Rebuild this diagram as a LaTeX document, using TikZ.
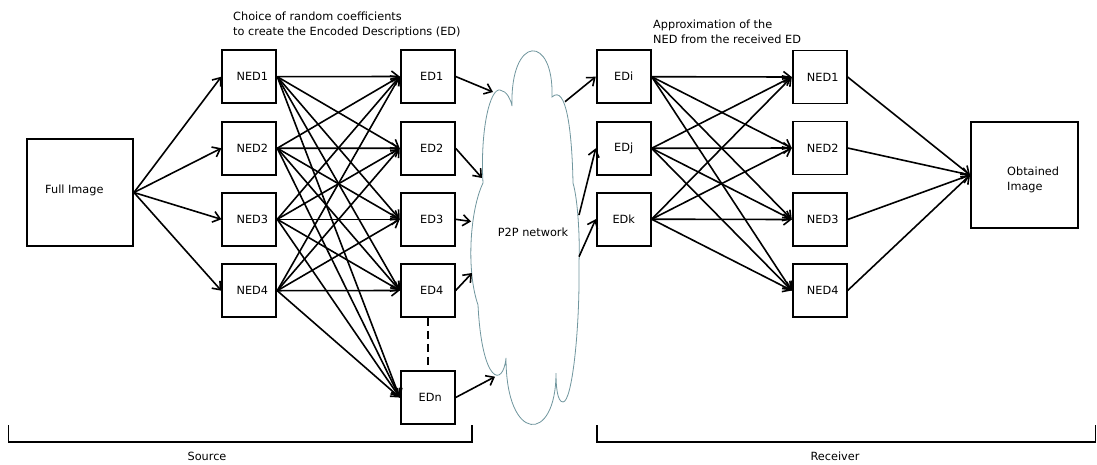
\documentclass[tikz,border=0pt]{standalone}
\usepackage{fontspec}
\setmainfont{DejaVu Sans}
\usetikzlibrary{arrows.meta}
\definecolor{cloudline}{RGB}{112,150,158}
\begin{document}
\begin{tikzpicture}[x=1pt,y=-1pt,
  every node/.style={font=\fontsize{11.3}{15}\selectfont},
  box/.style={draw, line width=1.9pt, minimum width=54pt, minimum height=53pt, inner sep=0pt},
  bigbox/.style={draw, line width=1.9pt, minimum width=106pt, minimum height=107pt, inner sep=0pt},
  arr/.style={line width=1.6pt, -{Straight Barb[length=7pt,width=11pt]}},
  plain/.style={line width=1.6pt},
  note/.style={inner sep=0pt, align=left}
]
\useasboundingbox (0,0) rectangle (1097,464);

% ---- source side ----
\node[bigbox] (full) at (80,192.5) {};
\node[inner sep=0pt, anchor=base west] (fulltxt) at (45,193.3) {Full Image};

\foreach \i/\y in {1/76.7,2/148.2,3/219.3,4/290.7}
  \node[box] (ned\i) at (249.3,\y) {\hspace{6pt}NED\i};

\foreach \i/\y in {1/76.5,2/148.3,3/219.3,4/290.5}
  \node[box] (ed\i) at (427.7,\y) {\hspace{8pt}ED\i};
\node[box] (edn) at (427.7,397.5) {\hspace{5pt}EDn};

\node[note, anchor=north west] (choice) at (233,11.6)
  {Choice of random coefficients\\to create the Encoded Descriptions (ED)};

% ---- network cloud ----
\draw[cloudline, line width=0.8pt, fill=white]
  (512,106) .. controls (510,34) and (554,34) .. (552,97)
  .. controls (566,84) and (572,130) .. (573,183)
  .. controls (578,200) and (580,240) .. (579,262)
  .. controls (580,330) and (572,402) .. (563,402)
  .. controls (557,402) and (556,385) .. (556,373)
  .. controls (556,444) and (506,444) .. (506,358)
  .. controls (503,388) and (482,384) .. (478,305)
  .. controls (466,270) and (470,210) .. (483,183)
  .. controls (480,130) and (490,88) .. (500,90)
  .. controls (507,91) and (511,100) .. (512,106) -- cycle;
\node (p2p) at (533,232) {P2P network};

\coordinate (in1) at (493,92);
\coordinate (in2) at (482,178);
\coordinate (in3) at (471,221.5);
\coordinate (in4) at (472,273);
\coordinate (inn) at (495,376.7);
\coordinate (out1) at (565,101.7);
\coordinate (out2) at (579,215);
\coordinate (out3) at (579,256.7);

% ---- receiver side ----
\foreach \n/\y in {i/76.7,j/148.3,k/219.2}
  \node[box] (ed\n) at (623.7,\y) {ED\n};

\foreach \i/\y in {1/77,2/148,3/219.5,4/290.5}
  \node[box] (rned\i) at (819.7,\y) {\hspace{6pt}NED\i};

\node[bigbox, minimum width=107pt, minimum height=106pt] (obt) at (1024.5,175) {};
\node[note, anchor=north west] (obttxt) at (1007,166.6) {Obtained\\Image};

\node[note, anchor=north west] (approx) at (653,19.3)
  {Approximation of the\\NED from the received ED};

% ---- connectors ----
\foreach \i in {1,2,3,4}
  \draw[arr] (full.east) -- (ned\i.west);

\foreach \i in {1,2,3,4}
  \foreach \j in {1,2,3,4,n}
    \draw[arr] (ned\i.east) -- (ed\j.west);

\draw[arr] (ed1.east) -- (in1);
\draw[arr] (ed2.east) -- (in2);
\draw[arr] (ed3.east) -- (in3);
\draw[arr] (ed4.east) -- (in4);
\draw[arr] (edn.east) -- (inn);
\draw[plain, dash pattern=on 8pt off 5pt] (ed4.south) -- (edn.north);

\draw[arr] (out1) -- (edi.west);
\draw[arr] (out2) -- (edj.west);
\draw[arr] (out3) -- (edk.west);

\foreach \n in {i,j,k}
  \foreach \i in {1,2,3,4}
    \draw[arr] (ed\n.east) -- (rned\i.west);

\foreach \i in {1,2,3,4}
  \draw[arr] (rned\i.east) -- (obt.west);

% ---- brackets ----
\coordinate (s1) at (8.3,425);
\coordinate (s2) at (472,425);
\draw[line width=1.6pt] (s1) -- ++(0,17) -| (s2);
\node (source) at (207,456) {Source};

\coordinate (r1) at (596.7,425);
\coordinate (r2) at (1095.5,425);
\draw[line width=1.6pt] (r1) -- ++(0,17) -| (r2);
\node (receiver) at (835,456) {Receiver};
\end{tikzpicture}
\end{document}
